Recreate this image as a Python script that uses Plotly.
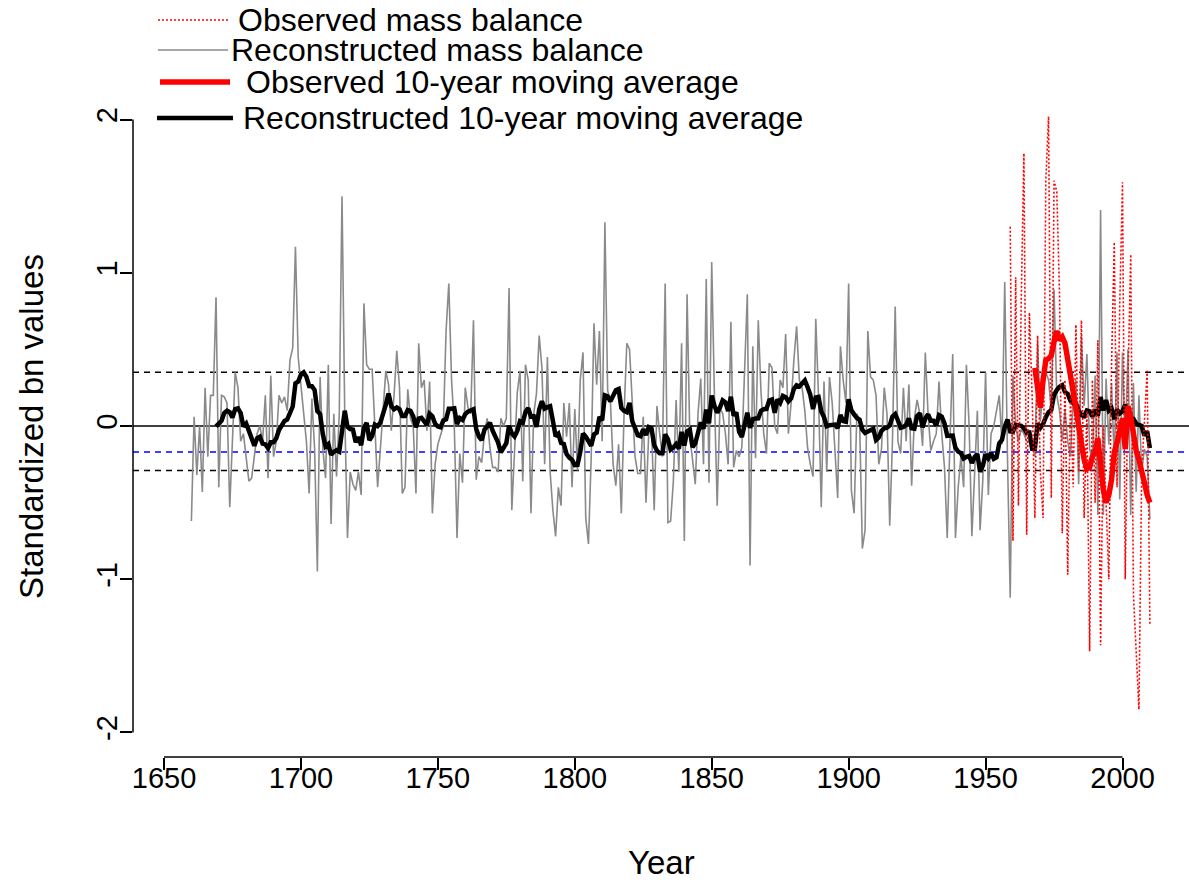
import pandas as pd
import plotly.graph_objects as go

# Reconstructed standardized mass balance, one value per year from 1660
recon_start = 1660
recon_bn = [
    -0.62, 0.06, -0.32, 0.0, -0.43, 0.25, -0.2, 0.2, 0.2, 0.84,
    -0.4, 0.2, 0.19, 0.15, -0.53, -0.1, 0.35, 0.25, -0.1, -0.05,
    -0.2, -0.36, -0.34, -0.2, -0.05, 0.0, -0.1, 0.2, -0.34, 0.33,
    -0.2, -0.1, 0.2, 0.15, 0.19, 0.1, 0.43, 0.51, 1.17, 0.45,
    0.25, 0.05, -0.1, -0.44, 0.18, -0.15, -0.95, 0.32, -0.15, -0.34,
    0.4, -0.64, 0.08, -0.33, 0.08, 1.5, 0.08, -0.73, -0.3, -0.38,
    -0.42, -0.3, -0.45, 0.8, 0.4, 0.37, 0.37, 0.0, -0.4, -0.15,
    0.1, 0.36, 0.27, -0.03, 0.2, 0.49, 0.25, -0.44, -0.4, 0.24,
    0.05, 0.0, -0.44, 0.54, 0.25, 0.3, -0.03, 0.29, -0.57, -0.25,
    -0.12, -0.05, 0.0, 0.62, 0.93, 0.3, 0.0, -0.73, -0.18, -0.37,
    0.25, 0.12, 0.08, 0.69, -0.35, -0.2, -0.24, -0.05, 0.05, -0.14,
    -0.27, -0.27, -0.3, 0.05, 0.0, 0.05, 0.9, -0.55, -0.15, 0.22,
    0.36, -0.36, 0.4, 0.3, -0.57, 0.08, 0.21, 0.59, 0.38, -0.25,
    0.45, -0.3, -0.55, -0.72, -0.4, -0.52, 0.15, -0.07, 0.15, -0.4,
    0.11, -0.29, 0.3, 0.48, -0.6, -0.77, -0.2, 0.67, 0.27, 0.62,
    -0.1, 1.33, 0.23, 0.16, -0.25, -0.39, -0.12, -0.57, 0.08, 0.54,
    0.5, 0.12, -0.2, -0.31, -0.31, 0.06, -0.5, -0.05, 0.0, -0.55,
    0.13, -0.05, -0.2, 0.93, -0.63, -0.62, -0.36, 0.17, -0.3, 0.54,
    -0.75, 0.86, -0.07, -0.22, -0.38, 0.08, 0.31, -0.25, 0.96, -0.37,
    1.07, 0.19, -0.52, 0.12, 0.08, -0.05, -0.25, 0.68, -0.27, -0.16,
    -0.2, -0.14, 0.32, 0.86, -0.91, 0.52, -0.21, 0.69, 0.22, -0.05,
    -0.18, 0.41, 0.38, 0.0, -0.05, 0.3, 0.25, 0.6, -0.05, 0.15,
    0.43, 0.65, 0.3, 0.25, 0.1, -0.14, -0.25, -0.33, 0.7, 0.19,
    -0.53, 0.29, -0.3, 0.32, 0.15, -0.15, -0.47, 0.52, 0.3, 0.15,
    0.93, -0.42, -0.57, 0.08, 0.04, -0.8, -0.68, 0.62, 0.32, 0.3,
    0.2, -0.25, -0.15, 0.25, 0.08, -0.65, -0.1, 0.78, -0.1, -0.18,
    0.25, -0.1, 0.27, -0.39, 0.05, 0.17, 0.08, -0.13, 0.48, 0.08,
    -0.16, -0.1, -0.05, 0.29, -0.05, -0.27, -0.73, -0.1, 0.47, -0.73,
    -0.4, -0.2, -0.4, 0.4, 0.0, -0.72, -0.35, 0.1, -0.68, -0.35,
    0.35, -0.45, -0.05, 0.0, 0.1, 0.2, -0.12, 0.94, -0.2, -1.12,
    0.33, 0.0, -0.1, -0.02, -0.05, -0.1, -0.1, -0.12, -0.2, 0.54,
    0.03, 0.25, 0.35, 0.3, 0.1, 0.89, 0.2, 0.1, -0.1, 0.1,
    -0.1, -0.2, 0.2, 0.3, -0.38, 0.59, 0.13, 0.47, -0.15, -0.23,
    0.33, -0.58, 1.41, -0.58, 0.31, -0.12, 0.28, -0.23, 0.48, -0.48,
    0.48, -0.15, 0.5, -0.58, 0.28, -0.43, 0.2, -0.3, -0.15, -0.2, -0.61,
]

# Observed standardized mass balance from 1959
obs_start = 1959
obs_bn = [
    1.3, -0.75, 0.97, -0.52, 0.79, 1.78, -0.71, 0.74, 0.2, -0.6,
    0.59, -0.3, -0.6, 1.6, 2.02, -0.47, 1.6, 1.53, 0.87, -0.7,
    0.3, -0.97, 0.2, -0.4, 0.66, -0.3, 0.69, -0.6, 0.1, -1.47,
    0.3, -0.5, 0.56, -1.43, 0.0, -0.5, -1.0, 0.4, 1.2, -0.4,
    0.8, 1.59, -1.0, 0.3, 1.12, -1.1, -1.52, -1.85, -0.3, 0.0,
    0.36, -1.29,
]

# Observed 10-year moving average, first value in 1968
obs_ma_start = 1968
obs_ma_bn = [
    0.38, 0.25, 0.12, 0.3, 0.43, 0.44, 0.46, 0.55, 0.62, 0.56,
    0.58, 0.54, 0.45, 0.33, 0.22, 0.1, 0.0, -0.12, -0.22, -0.28,
    -0.27, -0.2, -0.17, -0.08, -0.27, -0.42, -0.5, -0.45, -0.35, -0.17,
    -0.11, -0.04, 0.05, -0.15, 0.13, 0.06, -0.07, -0.16, -0.22, -0.28,
    -0.37, -0.45, -0.5,
]

# Horizontal reference levels
zero_level = 0.0
upper_level = 0.35
lower_level = -0.29
blue_level = -0.17

x_ticks = [1650, 1700, 1750, 1800, 1850, 1900, 1950, 2000]
y_ticks = [-2, -1, 0, 1, 2]
y_tick_text = ["-2", "-1", "0", "1", "2"]

legend_labels = [
    "Observed mass balance",
    "Reconstructed mass balance",
    "Observed 10-year moving average",
    "Reconstructed 10-year moving average",
]

recon_years = list(range(recon_start, recon_start + len(recon_bn)))
obs_years = list(range(obs_start, obs_start + len(obs_bn)))
obs_ma_years = list(range(obs_ma_start, obs_ma_start + len(obs_ma_bn)))
recon_ma = pd.Series(recon_bn).rolling(10).mean()

GREY = "#8a8a8a"
RED = "#ff0000"
FONT = "Liberation Sans, Arial, sans-serif"

W, H = 1189, 880
ML, MR, MT, MB = 133, 0, 95, 123
PW, PH = W - ML - MR, H - MT - MB

# pixel geometry of the year axis: 1650 -> 164 px, 2000 -> 1122.5 px
px_per_year = (1122.5 - 164.0) / 350.0
x_lo = 1650 - (164.0 - ML) / px_per_year
x_hi = 2000 + (W - MR - 1122.5) / px_per_year
y_lo, y_hi = -2.16, 2.16


def px(xp):
    return (xp - ML) / PW


def py(yp):
    return (H - MB - yp) / PH


fig = go.Figure()

fig.add_trace(go.Scatter(x=recon_years, y=recon_bn, mode="lines",
                         line=dict(color=GREY, width=1.6), hoverinfo="skip"))
fig.add_trace(go.Scatter(x=recon_years, y=recon_ma, mode="lines",
                         line=dict(color="black", width=4.5), hoverinfo="skip"))
fig.add_trace(go.Scatter(x=obs_years, y=obs_bn, mode="lines",
                         line=dict(color=RED, width=1.6, dash="2px,2px"), hoverinfo="skip"))
fig.add_trace(go.Scatter(x=obs_ma_years, y=obs_ma_bn, mode="lines",
                         line=dict(color=RED, width=5.5), hoverinfo="skip"))

shapes = []
for lvl, col, dash in [(zero_level, "black", "solid"),
                       (upper_level, "black", "6px,5px"),
                       (lower_level, "black", "6px,5px"),
                       (blue_level, "blue", "6px,5px")]:
    shapes.append(dict(type="line", xref="paper", yref="y", x0=0, x1=1, y0=lvl, y1=lvl,
                       line=dict(color=col, width=1.5, dash=dash), layer="below"))

# axis lines spanning the tick range only
shapes.append(dict(type="line", xref="x", yref="paper", x0=x_ticks[0], x1=x_ticks[-1], y0=0, y1=0,
                   line=dict(color="black", width=1.5)))
shapes.append(dict(type="line", xref="paper", yref="y", x0=0, x1=0, y0=y_ticks[0], y1=y_ticks[-1],
                   line=dict(color="black", width=1.5)))

# legend keys: (row centre y px, key x0, key x1, text x, colour, width, dash)
legend_rows = [
    (20, 158, 228, 236, RED, 1.6, "2px,2px"),
    (50, 158, 228, 229, GREY, 1.6, "solid"),
    (82, 160, 230, 244, RED, 5.5, "solid"),
    (118, 157, 233, 241, "black", 4.5, "solid"),
]
annotations = []
for (yy, k0, k1, tx, col, wd, dash), lab in zip(legend_rows, legend_labels):
    shapes.append(dict(type="line", xref="paper", yref="paper", x0=px(k0), x1=px(k1),
                       y0=py(yy), y1=py(yy), line=dict(color=col, width=wd, dash=dash)))
    annotations.append(dict(text=lab, xref="paper", yref="paper", x=px(tx), y=py(yy),
                            xanchor="left", yanchor="middle", showarrow=False,
                            font=dict(family=FONT, size=32, color="black")))

annotations.append(dict(text="Year", xref="paper", yref="paper", x=px(661), y=py(862),
                        xanchor="center", yanchor="middle", showarrow=False,
                        font=dict(family=FONT, size=33, color="black")))
annotations.append(dict(text="Standardized bn values", xref="paper", yref="paper", x=px(31), y=py(427),
                        xanchor="center", yanchor="middle", showarrow=False, textangle=-90,
                        font=dict(family=FONT, size=33, color="black")))

fig.update_layout(
    width=W, height=H,
    margin=dict(l=ML, r=MR, t=MT, b=MB, pad=0),
    paper_bgcolor="white", plot_bgcolor="white",
    showlegend=False,
    shapes=shapes,
    annotations=annotations,
    font=dict(family=FONT, color="black"),
)
fig.update_xaxes(range=[x_lo, x_hi], tickvals=x_ticks, ticks="outside", ticklen=12,
                 tickwidth=1.5, tickcolor="black", tickfont=dict(size=29, family=FONT),
                 ticklabelstandoff=-17,
                 showline=False, showgrid=False, zeroline=False)
fig.update_yaxes(range=[y_lo, y_hi], tickvals=y_ticks, ticktext=y_tick_text, tickangle=-90,
                 ticks="outside", ticklen=12, tickwidth=1.5, tickcolor="black",
                 tickfont=dict(size=29, family=FONT), ticklabelstandoff=-9,
                 showline=False, showgrid=False, zeroline=False)

fig.write_html("out.html")
